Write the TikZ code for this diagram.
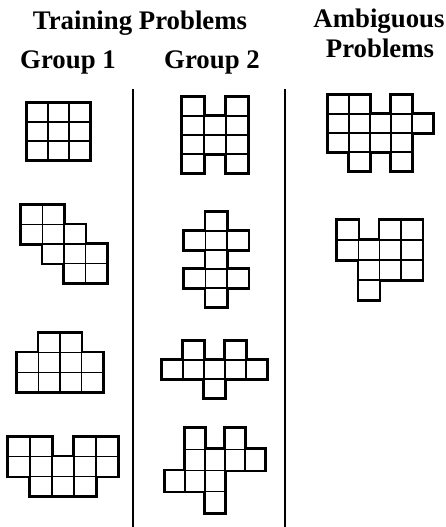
\documentclass[tikz,border=0pt]{standalone}
\usepackage{fontspec}
\setmainfont{Liberation Serif}
\tikzset{
  title/.style={font=\bfseries\fontsize{26.8}{28}\selectfont, anchor=base, inner sep=0pt},
  rim/.style={line width=3.6pt},
  gridline/.style={line width=1.3pt},
  divider/.style={line width=1.4pt}
}
% one shape: x0, y0, cell width, cell height, cells col/row
\newcommand{\polyo}[5]{%
  \foreach \cx/\cy in {#5}
    \draw[rim] ({#1+\cx*#3},{#2+\cy*#4}) rectangle ++(#3,#4);
  \foreach \cx/\cy in {#5}
    \fill[white] ({#1+\cx*#3},{#2+\cy*#4}) rectangle ++(#3,#4);
  \foreach \cx/\cy in {#5}
    \draw[gridline] ({#1+\cx*#3},{#2+\cy*#4}) rectangle ++(#3,#4);
}
\begin{document}
\begin{tikzpicture}[x=1pt, y=-1pt]
    \useasboundingbox (0,0) rectangle (446,527);
    % Headings
    \node[title] (train) at (140,30) {Training Problems};
    \node[title] (grp1) at (68,68) {Group 1};
    \node[title] (grp2) at (212,68) {Group 2};
    \node[title] (ambig) at (379,28) {Ambiguous};
    \node[title] (ambig2) at (380,57) {Problems};
    % Dividers
    \coordinate (d1top) at (133,89);
    \coordinate (d1bot) at (133,527);
    \coordinate (d2top) at (285,89);
    \coordinate (d2bot) at (285,527);
    \draw[divider] (d1top) -- (d1bot);
    \draw[divider] (d2top) -- (d2bot);
    % Group 1
    \polyo{27}{103}{21}{19}{0/0,1/0,2/0,0/1,1/1,2/1,0/2,1/2,2/2}
    \polyo{21}{205}{21.5}{19.5}{0/0,1/0,0/1,1/1,2/1,1/2,2/2,3/2,2/3,3/3}
    \polyo{17}{333}{21.5}{19.7}{1/0,2/0,0/1,1/1,2/1,3/1,0/2,1/2,2/2,3/2}
    \polyo{8}{437}{22}{19.7}{0/0,1/0,3/0,4/0,0/1,1/1,2/1,3/1,4/1,1/2,2/2,3/2}
    % Group 2
    \polyo{182}{97}{22}{19}{0/0,0/1,0/2,0/3,2/0,2/1,2/2,2/3,1/1,1/2}
    \polyo{184}{212}{21.5}{19}{1/0,1/1,1/2,1/3,1/4,0/1,2/1,0/3,2/3}
    \polyo{162}{341}{21}{19}{1/0,3/0,0/1,1/1,2/1,3/1,4/1,2/2}
    \polyo{165}{428}{20}{21.2}{1/0,3/0,1/1,2/1,3/1,4/1,0/2,1/2,2/2,2/3}
    % Ambiguous
    \polyo{328}{95}{21}{19}{0/0,1/0,3/0,0/1,1/1,2/1,3/1,4/1,0/2,1/2,2/2,3/2,1/3,3/3}
    \polyo{337}{220}{21.3}{20}{0/0,2/0,3/0,0/1,1/1,2/1,3/1,1/2,2/2,3/2,1/3}
\end{tikzpicture}
\end{document}
